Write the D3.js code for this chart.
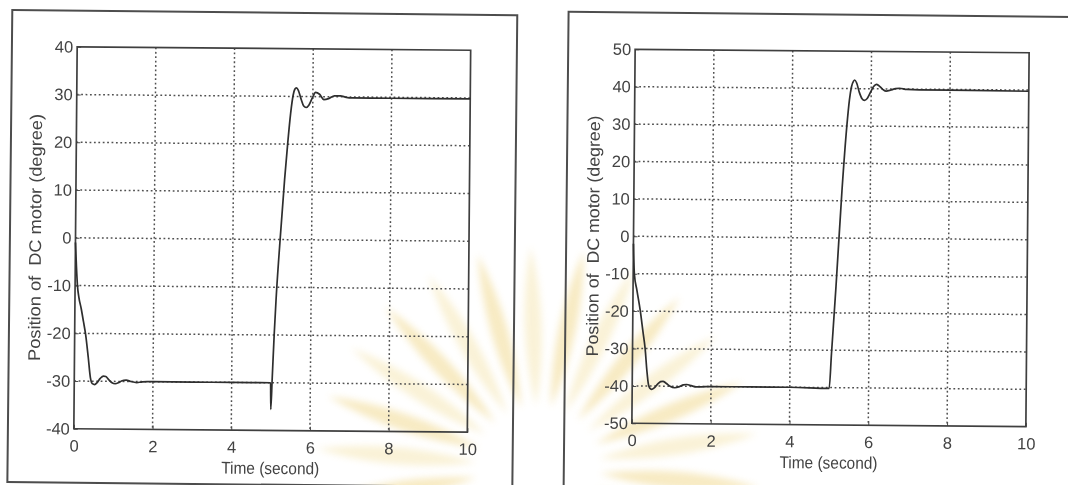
<!DOCTYPE html>
<html>
<head>
<meta charset="utf-8">
<script src="https://cdn.jsdelivr.net/npm/d3@7"></script>
<style>
  html, body { margin: 0; padding: 0; background: #fff; }
  svg { display: block; }
  text { font-family: "Liberation Sans", Arial, sans-serif; fill: #434343; }
</style>
</head>
<body>
<svg id="fig" width="1068" height="485"></svg>
<script>
// Position of the DC motor: set point -30 then +30 degrees (left run)
const timeA = [0, 0.03, 0.06, 0.1, 0.16, 0.22, 0.28, 0.35, 0.41, 0.46,
  0.52, 0.58, 0.66, 0.74, 0.8, 0.88, 0.96, 1.04, 1.12, 1.2,
  1.32, 1.44, 1.59, 1.7, 1.85, 2, 3, 4, 4.99, 5,
  5.03, 5.07, 5.11, 5.2, 5.3, 5.37, 5.44, 5.5, 5.54, 5.58,
  5.63, 5.7, 5.77, 5.83, 5.9, 5.98, 6.07, 6.17, 6.28, 6.4,
  6.55, 6.7, 6.85, 7, 8, 10];
const posA = [-1, -6, -10, -12.5, -14.8, -17.5, -20.3, -25, -29.3, -30.5,
  -30.7, -30.3, -29.4, -28.9, -29, -29.7, -30.3, -30.5, -30.3, -29.9,
  -29.7, -30, -30.2, -30.1, -30, -30, -30, -30, -30, -35.6,
  -29, -20, -12.6, 0, 12.5, 20, 26.5, 30.3, 31.5, 31.8,
  31.3, 29.5, 28, 27.7, 28.2, 29.6, 30.9, 30.5, 29.4, 29.6,
  30.2, 30.2, 29.9, 29.8, 29.8, 29.8];

// Position of the DC motor: set point -40 then +40 degrees (right run)
const timeB = [0, 0.03, 0.1, 0.19, 0.26, 0.32, 0.37, 0.41, 0.45, 0.49,
  0.56, 0.65, 0.72, 0.78, 0.86, 0.96, 1.08, 1.2, 1.3, 1.38,
  1.5, 1.6, 1.75, 2, 3, 4, 5, 5.05, 5.15, 5.28,
  5.39, 5.45, 5.5, 5.55, 5.58, 5.63, 5.7, 5.77, 5.83, 5.9,
  5.98, 6.06, 6.13, 6.2, 6.3, 6.38, 6.5, 6.62, 6.72, 6.9,
  7.22, 8, 10];
const posB = [-2, -10, -14.5, -20, -25.4, -30, -36, -39.5, -40.6, -40.9,
  -40.5, -39.4, -38.8, -38.7, -39.2, -40, -40.4, -40.1, -39.6, -39.5,
  -39.8, -40.1, -40.1, -40, -40, -40, -40.2, -31, -13, 12.6,
  30, 37, 40.5, 42, 42.3, 41.5, 39, 37.3, 36.9, 37.4,
  39, 40.6, 41.2, 40.8, 39.8, 39.4, 39.7, 40.1, 40.2, 39.9,
  39.8, 39.8, 39.7];

const xTicks = [0, 2, 4, 6, 8, 10];
const yTicksA = [-40, -30, -20, -10, 0, 10, 20, 30, 40];
const yTicksB = [-50, -40, -30, -20, -10, 0, 10, 20, 30, 40, 50];
const xTitle = "Time (second)";
const yTitle = "Position of  DC motor (degree)";

const svg = d3.select("#fig");

// ---- faint sunburst emblem sitting behind both figures ----
const defs = svg.append("defs");
defs.append("filter").attr("id", "soft")
  .attr("x", "-20%").attr("y", "-20%").attr("width", "140%").attr("height", "140%")
  .append("feGaussianBlur").attr("stdDeviation", 3.5);

const emblem = svg.append("g")
  .attr("transform", "translate(538,468)")
  .attr("filter", "url(#soft)")
  .attr("opacity", 0.42);
const rayCount = 26;
const r0 = 62, r1 = 222, halfW = 17;
emblem.selectAll("path").data(d3.range(rayCount)).join("path")
  .attr("d", `M${r0},0 Q${(r0 + r1) / 2},${halfW} ${r1},0 Q${(r0 + r1) / 2},${-halfW} ${r0},0Z`)
  .attr("transform", i => `rotate(${i * 360 / rayCount + 5})`)
  .attr("fill", i => i % 2 ? "#f3e0a0" : "#edcf72");

// ---- one MATLAB-style figure window ----
function drawFigure(cfg) {
  // outer window border
  svg.append("rect")
    .attr("x", cfg.frame[0]).attr("y", cfg.frame[1])
    .attr("width", cfg.frame[2]).attr("height", cfg.frame[3])
    .attr("transform", `rotate(${cfg.frameTilt},${cfg.frame[0]},${cfg.frame[1]})`)
    .attr("fill", "none").attr("stroke", "#4d4d4d").attr("stroke-width", 2);

  const x = d3.scaleLinear().domain([0, 10]).range([cfg.left, cfg.right]);
  const y = d3.scaleLinear().domain([cfg.yTicks[0], cfg.yTicks[cfg.yTicks.length - 1]])
    .range([cfg.bottom, cfg.top]);
  const cx = (cfg.left + cfg.right) / 2, cy = (cfg.top + cfg.bottom) / 2;
  const g = svg.append("g").attr("transform", `rotate(${cfg.tilt},${cx},${cy})`);

  // dotted grid
  const grid = g.append("g").attr("stroke", "#505050").attr("stroke-width", 1.5)
    .attr("stroke-dasharray", "1.8,2.6");
  grid.selectAll(".gh").data(cfg.yTicks.slice(1, -1)).join("line")
    .attr("x1", cfg.left).attr("x2", cfg.right)
    .attr("y1", d => y(d)).attr("y2", d => y(d));
  grid.selectAll(".gv").data(xTicks.slice(1, -1)).join("line")
    .attr("y1", cfg.top).attr("y2", cfg.bottom)
    .attr("x1", d => x(d)).attr("x2", d => x(d));

  // axes with inward ticks
  const fmt = d => String(d);
  const ax = g.append("g").attr("transform", `translate(0,${cfg.bottom})`)
    .call(d3.axisBottom(x).tickValues(xTicks).tickFormat(fmt).tickSize(-4).tickPadding(11));
  const ay = g.append("g").attr("transform", `translate(${cfg.left},0)`)
    .call(d3.axisLeft(y).tickValues(cfg.yTicks).tickFormat(fmt).tickSize(-4).tickPadding(4));
  [ax, ay].forEach(a => {
    a.select(".domain").remove();
    a.selectAll("line").attr("stroke", "#4d4d4d");
    a.selectAll("text").attr("font-size", 16.5).attr("fill", "#3e3e3e")
      .style("font-family", '"Liberation Sans", Arial, sans-serif');
  });

  // axes box
  g.append("rect")
    .attr("x", cfg.left).attr("y", cfg.top)
    .attr("width", cfg.right - cfg.left).attr("height", cfg.bottom - cfg.top)
    .attr("fill", "none").attr("stroke", "#3f3f3f").attr("stroke-width", 1.7);

  // response curve
  const pts = cfg.t.map((t, i) => [t, cfg.v[i]]);
  g.append("path").datum(pts)
    .attr("fill", "none").attr("stroke", "#2e2e2e").attr("stroke-width", 1.7)
    .attr("stroke-linejoin", "round")
    .attr("d", d3.line().x(d => x(d[0])).y(d => y(d[1])).curve(d3.curveMonotoneX));

  // axis titles
  g.append("text")
    .attr("x", cx).attr("y", cfg.bottom + 43.5)
    .attr("text-anchor", "middle").attr("font-size", 17)
    .attr("textLength", 98).attr("lengthAdjust", "spacingAndGlyphs")
    .text(xTitle);
  g.append("text")
    .attr("transform", `translate(${cfg.left - 34.5},${cy}) rotate(-90)`)
    .attr("text-anchor", "middle").attr("font-size", 17)
    .attr("textLength", cfg.yTitleLen).attr("lengthAdjust", "spacingAndGlyphs")
    .style("white-space", "pre")
    .text(yTitle);
}

drawFigure({
  frame: [12.3, 10, 505, 472], frameTilt: 0.6,
  left: 75.5, right: 469, top: 48.5, bottom: 430.5, tilt: 0.5,
  yTicks: yTicksA, t: timeA, v: posA, yTitleLen: 247
});
drawFigure({
  frame: [568.6, 11.7, 560, 520], frameTilt: 0.6,
  left: 633.5, right: 1027.5, top: 51, bottom: 425, tilt: 0.5,
  yTicks: yTicksB, t: timeB, v: posB, yTitleLen: 241
});
</script>
</body>
</html>
